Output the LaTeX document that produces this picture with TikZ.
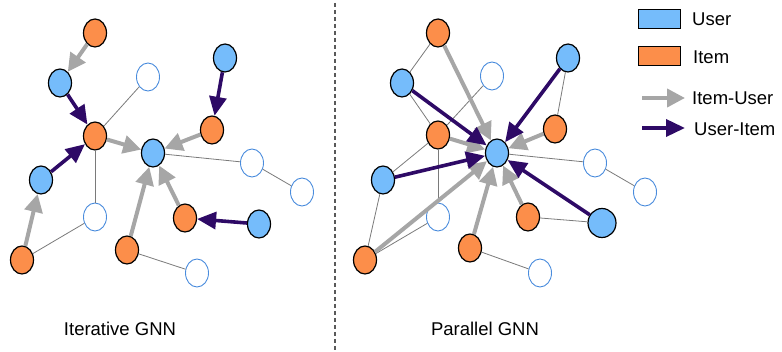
\documentclass[tikz,border=0pt]{standalone}
\usepackage{fontspec}
\setmainfont{Liberation Sans}
\usetikzlibrary{shapes.geometric,arrows.meta}
\definecolor{userblue}{HTML}{75BCFB}
\definecolor{itemorange}{HTML}{FC8E4A}
\definecolor{emptyblue}{HTML}{4A8CDD}
\definecolor{flowgray}{HTML}{A6A6A6}
\definecolor{flowpurple}{HTML}{2E0A66}
\definecolor{linkgray}{HTML}{7A7A7A}
\tikzset{
  vertex/.style={ellipse, minimum width=23pt, minimum height=28pt, inner sep=0pt},
  user/.style={vertex, draw=black, line width=1.2pt, fill=userblue},
  bigger/.style={minimum width=28pt, minimum height=29pt},
  item/.style={vertex, draw=black, line width=1.2pt, fill=itemorange},
  blank/.style={vertex, draw=emptyblue, line width=0.9pt, fill=white},
  link/.style={draw=linkgray, line width=0.8pt},
  iu/.style={draw=flowgray, line width=4pt, -{Triangle[length=18pt,width=18pt]}},
  ui/.style={draw=flowpurple, line width=3.6pt, -{Triangle[length=19pt,width=17pt]}},
  keybox/.style={draw=black, line width=0.9pt, minimum width=42pt, minimum height=19pt, inner sep=0pt},
  label/.style={font=\fontsize{18.5}{22}\selectfont, inner sep=0pt, anchor=west},
  caption/.style={font=\fontsize{18.5}{22}\selectfont, inner sep=0pt}
}
\begin{document}
\begin{tikzpicture}[x=1pt, y=-1pt]
\useasboundingbox (0,0) rectangle (782,352);

% separator between the two panels
\coordinate (sepTop) at (335,3);
\coordinate (sepBot) at (335,350);
\draw[draw=black!65, line width=1.4pt, dash pattern=on 4pt off 3pt] (sepTop) -- (sepBot);

% ---------- iterative GNN ----------
\node[item]  (I1) at (95,33) {};
\node[user]  (U1) at (60,83) {};
\node[blank] (E1) at (148,77) {};
\node[user]  (U2) at (225,58) {};
\node[item]  (I2) at (95,136) {};
\node[item]  (I3) at (212,130) {};
\node[user]  (Uc) at (153,153) {};
\node[blank] (E2) at (252,163) {};
\node[blank] (E3) at (302,192) {};
\node[user]  (U3) at (41,180) {};
\node[blank] (E4) at (95,217) {};
\node[item]  (I4) at (22,260) {};
\node[item]  (I5) at (127,250) {};
\node[item]  (I6) at (185,218) {};
\node[user]  (U4) at (259,224) {};
\node[blank] (E5) at (197,273) {};

\draw[link] (E1) -- (I2);
\draw[link] (I2) -- (E4);
\draw[link] (I4) -- (E4);
\draw[link] (Uc) -- (E2);
\draw[link] (E2) -- (E3);
\draw[link] (I5) -- (E5);

\draw[iu] (I1) -- (U1);
\draw[iu] (I2) -- (Uc);
\draw[iu] (I3) -- (Uc);
\draw[iu] (I4) -- (U3);
\draw[iu] (I5) -- (Uc);
\draw[iu] (I6) -- (Uc);
\draw[ui] (U1) -- (I2);
\draw[ui] (U2) -- (I3);
\draw[ui] (U3) -- (I2);
\draw[ui] (U4) -- (I6);

% ---------- parallel GNN ----------
\node[item]  (rI1) at (438,33) {};
\node[user]  (rU1) at (402,83) {};
\node[blank] (rE1) at (492,76) {};
\node[user]  (rU2) at (568,58) {};
\node[item]  (rI2) at (438,135) {};
\node[item]  (rI3) at (555,129) {};
\node[user]  (rUc) at (497,153) {};
\node[blank] (rE2) at (595,163) {};
\node[blank] (rE3) at (645,192) {};
\node[user]  (rU3) at (383,180) {};
\node[blank] (rE4) at (438,217) {};
\node[item]  (rI4) at (365,260) {};
\node[item]  (rI5) at (470,248) {};
\node[item]  (rI6) at (528,217) {};
\node[user, bigger] (rU4) at (602,223) {};
\node[blank] (rE5) at (540,273) {};

\draw[link] (rI1) -- (rU1);
\draw[link] (rU1) -- (rI2);
\draw[link] (rI2) -- (rE1);
\draw[link] (rI2) -- (rU3);
\draw[link] (rI2) -- (rE4);
\draw[link] (rU3) -- (rI4);
\draw[link] (rI4) -- (rE4);
\draw[link] (rU2) -- (rI3);
\draw[link] (rUc) -- (rE2);
\draw[link] (rE2) -- (rE3);
\draw[link] (rI5) -- (rE5);
\draw[link] (rI6) -- (rU4);

\draw[iu] (rI1) -- (rUc);
\draw[iu] (rI2) -- (rUc);
\draw[iu] (rI3) -- (rUc);
\draw[iu] (rI4) -- (rUc);
\draw[iu] (rI5) -- (rUc);
\draw[iu] (rI6) -- (rUc);
\draw[ui] (rU1) -- (rUc);
\draw[ui] (rU2) -- (rUc);
\draw[ui] (rU3) -- (rUc);
\draw[ui] (rU4) -- (rUc);

% ---------- captions ----------
\node[caption] (capL) at (120,329) {Iterative GNN};
\node[caption] (capR) at (485,329) {Parallel GNN};

% ---------- legend ----------
\node[keybox, fill=userblue]   (kU) at (659,19) {};
\node[keybox, fill=itemorange] (kI) at (659,56) {};
\node[label] (tU) at (692,19) {User};
\node[label] (tI) at (693,57) {Item};
\coordinate (aS) at (642,98);
\coordinate (aE) at (685,98);
\coordinate (bS) at (642,128);
\coordinate (bE) at (685,128);
\draw[iu] (aS) -- (aE);
\draw[ui] (bS) -- (bE);
\node[label] (tIU) at (692,98) {Item-User};
\node[label] (tUI) at (694,129) {User-Item};
\end{tikzpicture}
\end{document}
